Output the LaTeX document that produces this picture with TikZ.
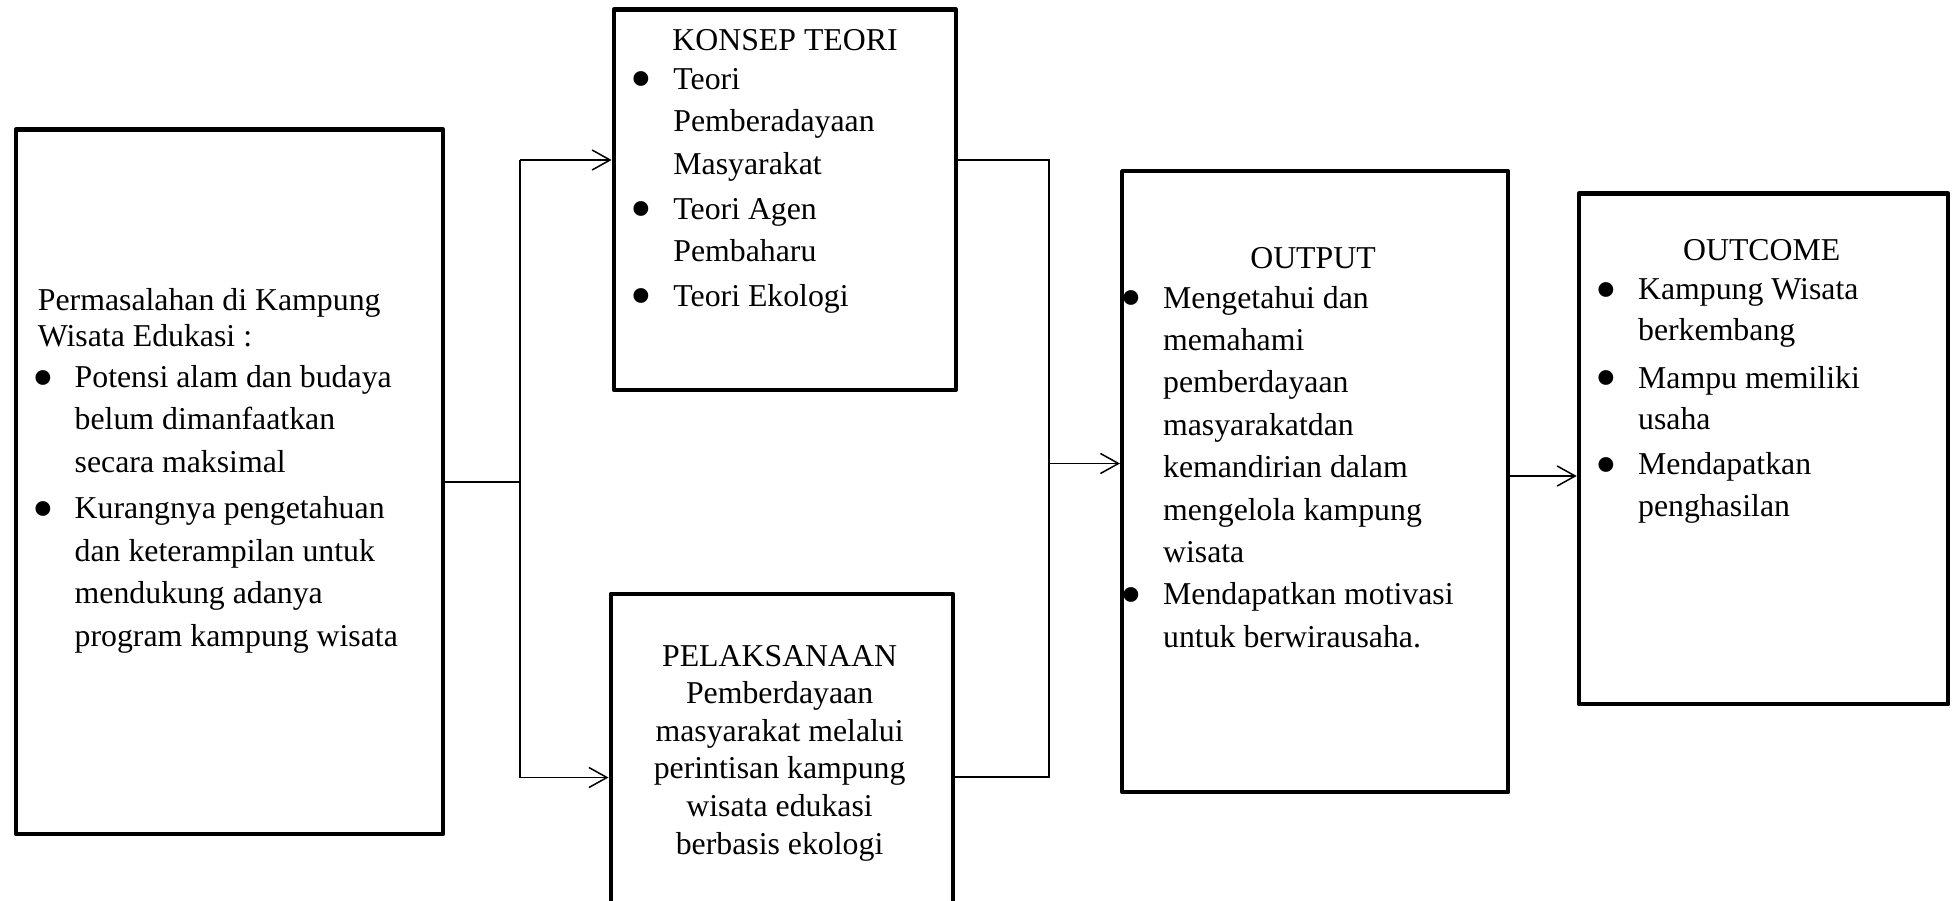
\documentclass[tikz,border=0pt]{standalone}
\usepackage{fontspec}
\setmainfont{Liberation Serif}
\usetikzlibrary{arrows.meta}
\begin{document}
\begin{tikzpicture}[x=0.5pt,y=-0.5pt,
  box/.style={draw, line width=2.2pt, line join=round, inner sep=0pt, anchor=north west},
  ln/.style={line width=0.75pt},
  arr/.style={line width=0.75pt, -{Straight Barb[length=9pt,width=10pt,line width=0.75pt]}},
  txt/.style={inner sep=0pt, anchor=base west, align=left, font=\fontsize{15.9}{21.2}\selectfont},
  ctxt/.style={inner sep=0pt, anchor=base, align=center, font=\fontsize{15.9}{18.8}\selectfont},
  bul/.style={inner sep=0pt, anchor=base, font=\fontsize{31}{31}\selectfont, yshift=-5.3pt},
]
\useasboundingbox (0,0) rectangle (1953,900);

% boxes
\node[box, minimum width=213.5pt, minimum height=352.25pt] (left) at (13.8,127.3) {};
\node[box, minimum width=171pt, minimum height=190.2pt] (konsep) at (611.6,7.3) {};
\node[box, minimum width=171.1pt, minimum height=159.2pt] (pel) at (608.5,591.7) {};
\node[box, minimum width=193pt, minimum height=310.5pt] (output) at (1120,169) {};
\node[box, minimum width=184.65pt, minimum height=255.3pt] (outcome) at (1576.7,191.4) {};

% left box text (nodes anchored at the baseline of their last line)
\node[txt, font=\fontsize{15.9}{17.75}\selectfont] (lhead) at (37.5,346) {Permasalahan di Kampung\\Wisata Edukasi :};
\node[bul] (lb1) at (43.5,388) {•};
\node[txt] (li1) at (74.3,472) {Potensi alam dan budaya\\belum dimanfaatkan\\secara maksimal};
\node[bul] (lb2) at (43.5,519) {•};
\node[txt] (li2) at (74.3,646) {Kurangnya pengetahuan\\dan keterampilan untuk\\mendukung adanya\\program kampung wisata};

% konsep teori
\node[txt] (ktitle) at (672,50) {KONSEP TEORI};
\node[bul] (kb1) at (641,89) {•};
\node[txt] (ki1) at (673,174) {Teori\\Pemberadayaan\\Masyarakat};
\node[bul] (kb2) at (641,219) {•};
\node[txt] (ki2) at (673,261.5) {Teori Agen\\Pembaharu};
\node[bul] (kb3) at (641,306) {•};
\node[txt] (ki3) at (673,306) {Teori Ekologi};

% pelaksanaan
\node[ctxt] (ptxt) at (779.6,854) {PELAKSANAAN\\Pemberdayaan\\masyarakat melalui\\perintisan kampung\\wisata edukasi\\berbasis ekologi};

% output
\node[ctxt] (otitle) at (1313,268) {OUTPUT};
\node[bul] (ob1) at (1131.7,308) {•};
\node[txt] (oi1) at (1162.7,562.5) {Mengetahui dan\\memahami\\pemberdayaan\\masyarakatdan\\kemandirian dalam\\mengelola kampung\\wisata};
\node[bul] (ob2) at (1131.7,605) {•};
\node[txt] (oi2) at (1162.7,647) {Mendapatkan motivasi\\untuk berwirausaha.};

% outcome
\node[ctxt] (uctitle) at (1761.7,260) {OUTCOME};
\node[bul] (ub1) at (1606.7,299.5) {•};
\node[txt, font=\fontsize{15.9}{20.7}\selectfont] (ui1) at (1637.7,340.5) {Kampung Wisata\\berkembang};
\node[bul] (ub2) at (1606.7,388) {•};
\node[txt, font=\fontsize{15.9}{20.7}\selectfont] (ui2) at (1637.7,429.5) {Mampu memiliki\\usaha};
\node[bul] (ub3) at (1606.7,475) {•};
\node[txt, font=\fontsize{15.9}{20.7}\selectfont] (ui3) at (1637.7,516) {Mendapatkan\\penghasilan};

% connectors
\coordinate (jt) at (520,160);
\coordinate (jb) at (520,777.5);
\coordinate (ja) at (left.east -| jt);
\draw[ln] (left.east) -- (ja);
\draw[ln] (jt) -- (jb);
\draw[arr] (jt) -- (konsep.west |- jt);
\draw[arr] (jb) -- (pel.west |- jb);

\coordinate (kt) at (1049,160);
\coordinate (kb) at (1049,777);
\coordinate (km) at (1049,463.5);
\draw[ln] (konsep.east |- kt) -- (kt) -- (kb) -- (pel.east |- kb);
\draw[arr] (km) -- (output.west |- km);

\coordinate (oo) at (1506,476);
\draw[arr] (output.east |- oo) -- (outcome.west |- oo);
\end{tikzpicture}
\end{document}
